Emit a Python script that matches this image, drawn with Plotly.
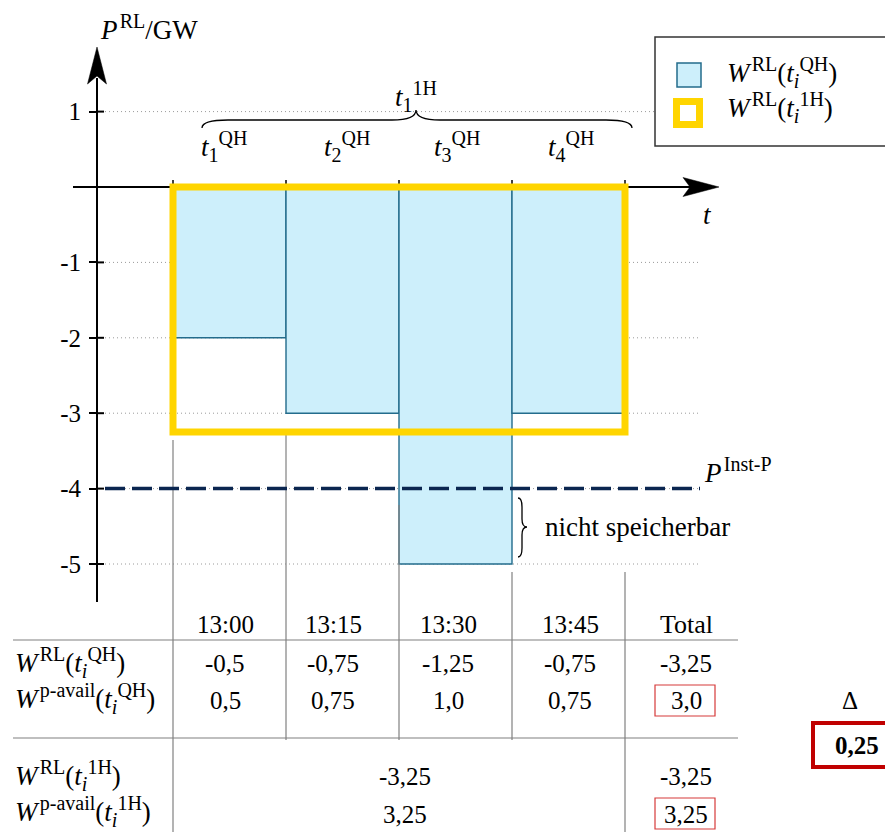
import plotly.graph_objects as go

# ---- data -----------------------------------------------------------------
slots = ["13:00", "13:15", "13:30", "13:45"]
slot_pos = [1, 2, 3, 4]                      # quarter-hour interval index
p_rl_qh = [-2.0, -3.0, -5.0, -3.0]           # residual load power per quarter hour (GW)
p_inst = -4.0                                # installed pump power limit (GW)
grid_levels = [1, -1, -2, -3, -4, -5]
ytick_vals = [1, -1, -2, -3, -4, -5]
ytick_text = ["1", "-1", "-2", "-3", "-4", "-5"]

# energies (GWh)
w_rl_qh = [-0.5, -0.75, -1.25, -0.75]
w_avail_qh = [0.5, 0.75, 1.0, 0.75]
w_rl_qh_total = -3.25
w_avail_qh_total = 3.0
w_rl_1h = -3.25
w_avail_1h = 3.25
w_rl_1h_total = -3.25
w_avail_1h_total = 3.25
delta = 0.25

p_rl_1h = sum(p_rl_qh) / len(p_rl_qh)        # hourly mean power

# ---- page geometry (pixel -> data) ----------------------------------------
W, H = 885, 832
PX_X, PX_Y = 113.0, 75.4


def X(px):
    return (px - 173) / PX_X + 0.5


def Y(py):
    return (187 - py) / PX_Y


FONT = "Liberation Serif"
FS = 25        # numbers
FT = 27        # words and symbols
SUP = 20       # script size
BAR_FILL = "#cdeffb"
BAR_EDGE = "#236c8c"
YELLOW = "#ffd500"
NAVY = "#0b2650"
GREY = "#808080"
RED = "#d63a3a"
DARKRED = "#c00000"


def fmt(v):
    s = f"{v:.2f}".rstrip("0")
    if s.endswith("."):
        s += "0"
    return s.replace(".", ",")


def sup(s):
    return f'<sup><span style="font-size:{SUP}px">{s}</span></sup>'


def sub(s):
    return f'<sub><span style="font-size:{SUP}px">{s}</span></sub>'


fig = go.Figure()

fig.add_trace(go.Bar(
    x=slot_pos, y=p_rl_qh, width=1,
    marker=dict(color=BAR_FILL, line=dict(color=BAR_EDGE, width=1.4)),
    hoverinfo="skip", showlegend=False,
))

shapes = []
annotations = []


def line(x0, y0, x1, y1, color="black", width=1.0, dash=None, layer="above"):
    d = dict(type="line", xref="x", yref="y", x0=x0, y0=y0, x1=x1, y1=y1,
             line=dict(color=color, width=width), layer=layer)
    if dash:
        d["line"]["dash"] = dash
    shapes.append(d)


def rect(px0, py0, px1, py1, color, width, fill="rgba(0,0,0,0)"):
    shapes.append(dict(type="rect", xref="x", yref="y",
                       x0=X(px0), y0=Y(py0), x1=X(px1), y1=Y(py1),
                       line=dict(color=color, width=width), fillcolor=fill))


def path(segments, closed=False, color="black", width=1.2, fill=None):
    parts = []
    for cmd, pts in segments:
        coords = " ".join(f"{X(a):.5f},{Y(b):.5f}" for a, b in pts)
        parts.append(f"{cmd}{coords}")
    s = " ".join(parts)
    if closed:
        s += " Z"
    d = dict(type="path", xref="x", yref="y", path=s,
             line=dict(color=color, width=width))
    if fill:
        d["fillcolor"] = fill
    shapes.append(d)


def txt(px, py, text, xanchor="center", size=FT, color="black"):
    annotations.append(dict(xref="x", yref="y", x=X(px), y=Y(py), text=text,
                            showarrow=False, xanchor=xanchor, yanchor="middle",
                            font=dict(family=FONT, size=size, color=color)))


# dotted horizontal guides (beneath the bars)
for g in grid_levels:
    line(X(105), g, X(700), g, color="#9a9a9a", width=1, dash="1px,3px",
         layer="below")

# axes with arrow heads
line(X(97), Y(602), X(97), Y(78), width=2)
line(X(73), 0, X(690), 0, width=2)
path([("M", [(97, 47)]), ("L", [(87.5, 84)]), ("L", [(97, 76)]),
      ("L", [(106.5, 84)])], closed=True, width=0.5, fill="black")
path([("M", [(719, 187)]), ("L", [(683, 177.5)]), ("L", [(690, 187)]),
      ("L", [(683, 196.5)])], closed=True, width=0.5, fill="black")
for v in ytick_vals:
    line(X(97), v, X(104), v, width=2)
for k in range(len(slot_pos) + 1):
    xe = slot_pos[0] - 0.5 + k
    line(xe, 0, xe, Y(180), width=1.5)

# table rules
for xe, top, bot in [(0.5, 440, 832), (1.5, 429, 740), (2.5, 505, 740),
                     (3.5, 572, 740), (4.5, 572, 832)]:
    line(xe, Y(top), xe, Y(bot), color=GREY, width=1.2)
for py in (640, 738):
    line(X(13), Y(py), X(738), Y(py), color=GREY, width=1.2)

# pump power limit
line(X(105), p_inst, X(700), p_inst, color=NAVY, width=3.5, dash="20px,7px")

# hourly energy block
shapes.append(dict(type="rect", xref="x", yref="y",
                   x0=slot_pos[0] - 0.5, x1=slot_pos[-1] + 0.5, y0=0, y1=p_rl_1h,
                   line=dict(color=YELLOW, width=7)))

# braces
path([("M", [(202, 128)]), ("Q", [(202, 120), (228, 120)]), ("L", [(392, 120)]),
      ("Q", [(416, 120), (416, 110)]), ("Q", [(416, 120), (440, 120)]),
      ("L", [(606, 120)]), ("Q", [(632, 120), (632, 128)])], width=1.3)
path([("M", [(518, 498)]), ("Q", [(522, 498), (522, 507)]), ("L", [(522, 519)]),
      ("Q", [(522, 527), (527, 527)]), ("Q", [(522, 527), (522, 535)]),
      ("L", [(522, 548)]), ("Q", [(522, 557), (518, 557)])], width=1.3)

# legend
rect(655, 37, 895, 146, "#333333", 1.5, fill="white")
rect(677, 63, 701, 87, BAR_EDGE, 1.5, fill=BAR_FILL)
rect(676.5, 101.5, 699.5, 124.5, YELLOW, 7, fill="white")

# red highlight boxes
rect(655, 685, 715, 716, RED, 1.2)
rect(655, 798, 715, 829, RED, 1.2)
rect(813, 723, 895, 767, DARKRED, 4)

# ---- text -----------------------------------------------------------------
SP = "\u200a"
W_RL_QH = f"<i>W</i>{SP}{sup('RL')}(<i>t</i>{sub('<i>i</i>')}{sup('QH')})"
W_AV_QH = f"<i>W</i>{SP}{sup('p-avail')}(<i>t</i>{sub('<i>i</i>')}{sup('QH')})"
W_RL_1H = f"<i>W</i>{SP}{sup('RL')}(<i>t</i>{sub('<i>i</i>')}{sup('1H')})"
W_AV_1H = f"<i>W</i>{SP}{sup('p-avail')}(<i>t</i>{sub('<i>i</i>')}{sup('1H')})"

txt(98, 27, f"<i>P</i>{SP}{sup('RL')}/GW", xanchor="left")
txt(707, 215, "<i>t</i>")
txt(702, 470, f"<i>P</i>{SP}{sup('Inst-P')}", xanchor="left")
txt(543, 527, "nicht speicherbar", xanchor="left")
txt(416, 96, f"<i>t</i>{sub('1')}{sup('1H')}")
for k, cx in enumerate([224, 347, 457, 571]):
    txt(cx, 146, f"<i>t</i>{sub(str(k + 1))}{sup('QH')}")

txt(725, 72, W_RL_QH, xanchor="left")
txt(725, 107, W_RL_1H, xanchor="left")

col_px = [225, 333, 448, 570]
tot_px = 686
for cx, s in zip(col_px, slots):
    txt(cx, 624, s, size=FS)
txt(tot_px, 624, "Total", size=FS + 1)

txt(13, 662, W_RL_QH, xanchor="left")
txt(13, 698, W_AV_QH, xanchor="left")
txt(13, 775, W_RL_1H, xanchor="left")
txt(13, 811, W_AV_1H, xanchor="left")

for cx, v in zip(col_px, w_rl_qh):
    txt(cx, 663, fmt(v), size=FS)
for cx, v in zip(col_px, w_avail_qh):
    txt(cx, 700, fmt(v), size=FS)
txt(tot_px, 663, fmt(w_rl_qh_total), size=FS)
txt(tot_px, 700, fmt(w_avail_qh_total), size=FS)
txt(405, 776, fmt(w_rl_1h), size=FS)
txt(405, 814, fmt(w_avail_1h), size=FS)
txt(tot_px, 776, fmt(w_rl_1h_total), size=FS)
txt(tot_px, 814, fmt(w_avail_1h_total), size=FS)

txt(850, 700, "Δ", size=FS)
txt(857, 745, f"<b>{fmt(delta)}</b>", size=FS)

fig.update_layout(
    width=W, height=H, autosize=False,
    margin=dict(l=0, r=0, t=0, b=0, pad=0),
    paper_bgcolor="white", plot_bgcolor="white",
    showlegend=False,
    xaxis=dict(range=[X(0), X(W)], visible=False, fixedrange=True),
    yaxis=dict(range=[Y(H), Y(0)], anchor="free", position=97 / W,
               tickmode="array", tickvals=ytick_vals, ticktext=ytick_text,
               ticks="outside", ticklen=8, tickwidth=2, tickcolor="black",
               ticklabelstandoff=3,
               showline=False, showgrid=False, zeroline=False, fixedrange=True,
               tickfont=dict(family=FONT, size=FS, color="black")),
    shapes=shapes,
    annotations=annotations,
)

fig.write_html("out.html", config={"displayModeBar": False})
